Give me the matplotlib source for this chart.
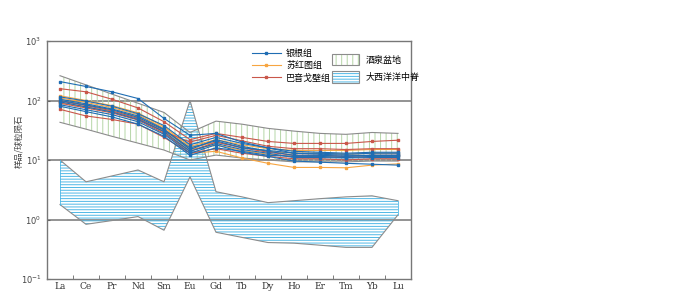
import numpy as np
import matplotlib
matplotlib.use("Agg")
import matplotlib.pyplot as plt
import matplotlib.patches as mpatches
from matplotlib.lines import Line2D

plt.rcParams['font.family'] = ['Noto Sans CJK SC', 'DejaVu Sans']
plt.rcParams['hatch.linewidth'] = 0.7

elements = ['La', 'Ce', 'Pr', 'Nd', 'Sm', 'Eu', 'Gd', 'Tb', 'Dy', 'Ho', 'Er', 'Tm', 'Yb', 'Lu']

# chondrite-normalised values
yingen = [
    [208, 172, 140, 108, 50, 26, 28, 20, 16, 13, 12.5, 12, 12, 12],
    [115, 98, 80, 60, 38, 18, 24, 19, 16, 14, 13.5, 13, 13.5, 13.5],
    [105, 88, 72, 55, 33, 15, 22, 17, 14, 12, 12, 11.5, 12, 12],
    [95, 78, 64, 48, 30, 14, 19, 15, 13, 11, 11, 10.8, 11, 11],
    [85, 70, 58, 44, 27, 13, 18, 13.5, 11.5, 9.6, 9.2, 8.8, 8.5, 8.2],
    [80, 65, 53, 40, 25, 12, 16, 14, 12, 11.5, 11.5, 11, 11.5, 11.5],
    [100, 84, 70, 52, 32, 16, 21, 16, 14.5, 13, 13, 12.5, 13, 13],
]
suhongtu = [
    [120, 100, 82, 62, 36, 17, 22, 18, 15.5, 14.5, 14.5, 14.5, 15, 15],
    [110, 93, 76, 58, 34, 16, 20, 16.5, 14, 13, 13, 12.5, 13, 13],
    [92, 78, 65, 50, 29, 13, 14, 10.8, 8.8, 7.5, 7.5, 7.4, 8.2, 8.6],
    [100, 85, 70, 53, 31, 15, 18, 14.5, 12.5, 11.5, 11.5, 11, 11.5, 11.5],
]
bayingebi = [
    [158, 140, 105, 75, 44, 22, 28, 24, 20.5, 19, 19, 19, 20.5, 21.5],
    [71, 55, 48, 40, 24, 13, 15.5, 13, 11.5, 10.5, 10.5, 10, 10.5, 10.5],
    [98, 82, 67, 50, 30, 20, 26, 21, 17, 15.5, 15.5, 15, 15.5, 15.5],
    [90, 75, 62, 47, 28, 14, 20, 16, 13.5, 12, 12, 11.5, 12, 12],
]

jiuquan_upper = [261, 183, 128, 90, 63, 29, 45, 40, 34, 30.6, 28, 27, 29, 28]
jiuquan_lower = [43, 33, 25, 19.2, 14.7, 10, 12.1, 10.8, 10, 9.3, 9.3, 9.3, 9.6, 9.6]
morb_upper = [10, 4.3, 5.4, 6.8, 4.3, 100, 2.93, 2.4, 1.92, 2.07, 2.24, 2.4, 2.5, 2.07]
morb_lower = [1.78, 0.83, 0.96, 1.12, 0.66, 5.2, 0.61, 0.5, 0.41, 0.4, 0.37, 0.34, 0.34, 1.2]

x = np.arange(len(elements))
blue = '#1f6db3'
orange = '#f7a541'
red = '#c9574a'
green = '#b5d6a7'
hblue = '#4fb8e6'
gray = '#8c8c8c'

fig = plt.figure(figsize=(7, 2.91), dpi=100)
ax = fig.add_axes([47 / 700, 12 / 291, 364 / 700, 238 / 291])

# fields
ax.fill_between(x, jiuquan_lower, jiuquan_upper, facecolor='none', edgecolor=green,
                hatch='|||', linewidth=0, zorder=1)
ax.plot(x, jiuquan_upper, color=gray, lw=0.8, zorder=2)
ax.plot(x, jiuquan_lower, color=gray, lw=0.8, zorder=2)
ax.fill_between(x, morb_lower, morb_upper, facecolor='none', edgecolor=hblue,
                hatch='------', linewidth=0, zorder=1)
ax.plot(x, morb_upper, color=gray, lw=0.8, zorder=2)
ax.plot(x, morb_lower, color=gray, lw=0.8, zorder=2)
ax.plot([x[0], x[0]], [morb_lower[0], morb_upper[0]], color=hblue, lw=0.6, zorder=2)
ax.plot([x[-1], x[-1]], [morb_lower[-1], morb_upper[-1]], color=hblue, lw=0.6, zorder=2)

for row in suhongtu:
    ax.plot(x, row, color=orange, lw=0.8, marker='s', ms=2, zorder=3)
for row in bayingebi:
    ax.plot(x, row, color=red, lw=0.8, marker='s', ms=2, zorder=3)
for row in yingen:
    ax.plot(x, row, color=blue, lw=0.8, marker='s', ms=2, zorder=4)

ax.set_yscale('log')
ax.set_ylim(0.1, 1000)
ax.set_xlim(-0.5, 13.5)
ax.set_yticks([0.1, 1, 10, 100, 1000])
ax.set_yticklabels(['$10^{-1}$', '$10^{0}$', '$10^{1}$', '$10^{2}$', '$10^{3}$'],
                   fontsize=6, family='serif', color='#444444')
ax.yaxis.set_minor_locator(matplotlib.ticker.NullLocator())
for v in [1, 10, 100]:
    ax.axhline(v, color='#8a8a8a', lw=1.3, zorder=0.5)

ax.set_xticks(x)
ax.set_xticklabels(elements, fontsize=6.5, family='serif', color='#333333')
ax.tick_params(axis='x', which='major', length=0, pad=2.5)
ax.set_xticks(x[:-1] + 0.5, minor=True)
ax.tick_params(axis='x', which='minor', direction='in', length=3, color='#666666')
ax.tick_params(axis='y', direction='in', length=2, color='#666666', pad=4)
for s in ax.spines.values():
    s.set_color('#777777')
    s.set_linewidth(1.0)

ax.set_ylabel('样品/球粒陨石', fontsize=6, color='#444444', labelpad=6)
ax.yaxis.set_label_coords(-0.065, 0.58)

h1 = [Line2D([], [], color=blue, lw=0.8, marker='s', ms=2),
      Line2D([], [], color=orange, lw=0.8, marker='s', ms=2),
      Line2D([], [], color=red, lw=0.8, marker='s', ms=2)]
leg1 = ax.legend(h1, ['银根组', '苏红图组', '巴音戈壁组'], loc='upper left',
                 bbox_to_anchor=(0.54, 1.0), frameon=False, fontsize=6.5,
                 handlelength=3.2, handletextpad=0.6, labelspacing=0.35)
ax.add_artist(leg1)
h2 = [(mpatches.Patch(facecolor='white', edgecolor=green, hatch='|||', lw=0),
       mpatches.Patch(facecolor='none', edgecolor=gray, lw=0.8)),
      (mpatches.Patch(facecolor='white', edgecolor=hblue, hatch='------', lw=0),
       mpatches.Patch(facecolor='none', edgecolor=gray, lw=0.8))]
ax.legend(h2, ['酒泉盆地', '大西洋洋中脊'], loc='upper left',
          bbox_to_anchor=(0.76, 0.98), frameon=False, fontsize=6.5,
          handlelength=3.0, handleheight=1.6, handletextpad=0.8, labelspacing=0.6)

fig.savefig('out.png', dpi=100)
